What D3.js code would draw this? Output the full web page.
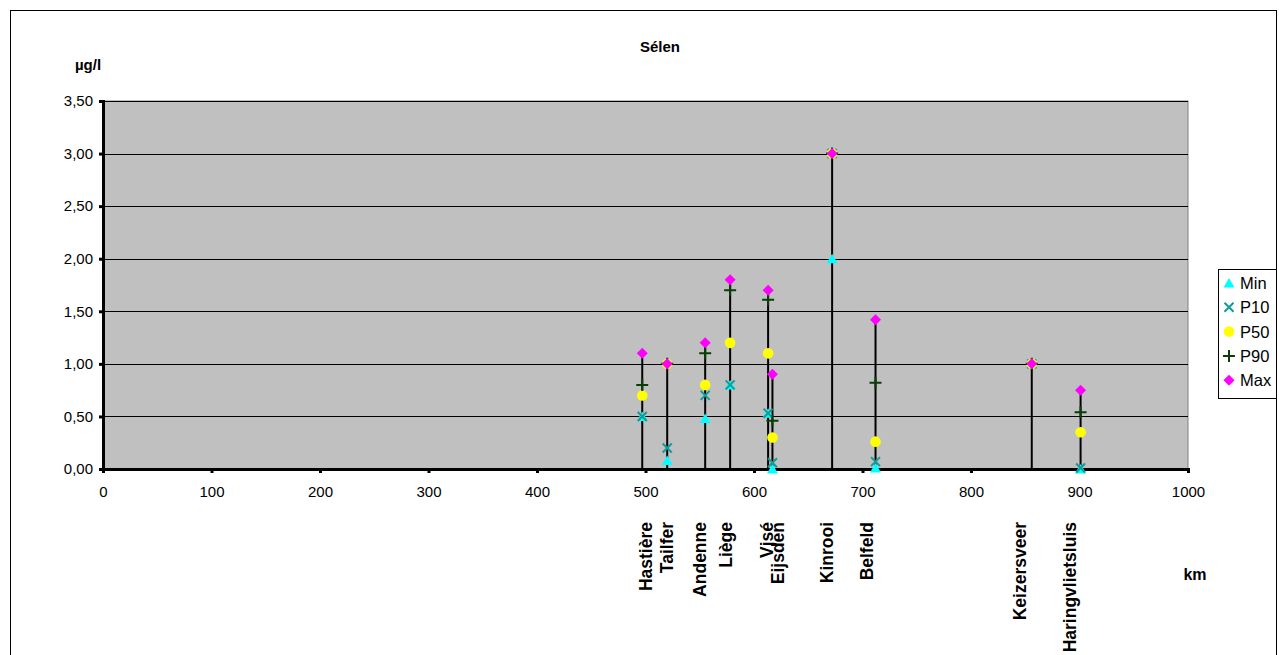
<!DOCTYPE html>
<html>
<head>
<meta charset="utf-8">
<script src="https://cdn.jsdelivr.net/npm/d3@7"></script>
<style>
  html, body { margin: 0; padding: 0; background: #fff; }
  svg { display: block; font-family: Arial, "Liberation Sans", sans-serif; }
</style>
</head>
<body>
<svg id="chart" width="1279" height="655"></svg>
<script>
// Selenium concentrations along the Meuse (µg/l) by river kilometre
const stations = ["Hastière", "Tailfer", "Andenne", "Liège", "Vjsé", "Eijsden", "Kinrooi", "Belfeld", "Keizersveer", "Haringvlietsluis"];
const km       = [497, 520, 555, 578, 613, 617, 672, 712, 856, 901];
// kilometre at which each station name is written under the axis
const labelKm  = [500, 520, 550, 574, 612, 622, 667, 704, 845, 891];
const minVals  = [0.50, 0.08, 0.48, 0.80, 0.53, 0.00, 2.00, 0.01, 1.00, 0.00];
const p10Vals  = [0.50, 0.20, 0.70, 0.80, 0.53, 0.06, 3.00, 0.07, 1.00, 0.01];
const p50Vals  = [0.70, 1.00, 0.80, 1.20, 1.10, 0.30, 3.00, 0.26, 1.00, 0.35];
const p90Vals  = [0.80, 1.00, 1.10, 1.70, 1.61, 0.46, 3.00, 0.82, 1.00, 0.54];
const maxVals  = [1.10, 1.00, 1.20, 1.80, 1.70, 0.90, 3.00, 1.42, 1.00, 0.75];

const xTicks = [0, 100, 200, 300, 400, 500, 600, 700, 800, 900, 1000];
const yTicks = [0, 0.5, 1, 1.5, 2, 2.5, 3, 3.5];
const seriesNames = ["Min", "P10", "P50", "P90", "Max"];

const svg = d3.select("#chart");
const plot = { left: 103, right: 1188, top: 101, bottom: 469 };

const x = d3.scaleLinear().domain([0, 1000]).range([plot.left, plot.right]);
const y = d3.scaleLinear().domain([0, 3.5]).range([plot.bottom, plot.top]);
const fmt = v => d3.format(".2f")(v).replace(".", ",");

// outer chart frame
svg.append("rect").attr("x", 10.5).attr("y", 10.5).attr("width", 1266).attr("height", 660)
  .attr("fill", "#fff").attr("stroke", "#000").attr("stroke-width", 1);

// plot background
svg.append("rect").attr("x", plot.left).attr("y", plot.top)
  .attr("width", plot.right - plot.left).attr("height", plot.bottom - plot.top)
  .attr("fill", "#c0c0c0").attr("stroke", "#808080").attr("stroke-width", 1);

// horizontal gridlines
svg.append("g").selectAll("line").data(yTicks.filter(d => d > 0)).join("line")
  .attr("x1", plot.left).attr("x2", plot.right)
  .attr("y1", d => Math.round(y(d)) + 0.5).attr("y2", d => Math.round(y(d)) + 0.5)
  .attr("stroke", "#000").attr("stroke-width", 1);

// y axis
const yAxis = svg.append("g").attr("transform", `translate(${plot.left},0)`)
  .call(d3.axisLeft(y).tickValues(yTicks).tickFormat(fmt).tickSize(4).tickPadding(6));
yAxis.select(".domain").attr("stroke-width", 3);
yAxis.selectAll(".tick line").attr("stroke-width", 3);
yAxis.selectAll("text").attr("font-size", 15).attr("fill", "#000");

// x axis
const xAxis = svg.append("g").attr("transform", `translate(0,${plot.bottom})`)
  .call(d3.axisBottom(x).tickValues(xTicks).tickFormat(d3.format("d")).tickSize(4).tickPadding(13));
xAxis.select(".domain").attr("stroke-width", 3);
xAxis.selectAll(".tick line").attr("stroke-width", 3);
xAxis.selectAll("text").attr("font-size", 15).attr("fill", "#000");

// stems from zero up to the maximum
const rows = stations.map((s, i) => ({ s, km: km[i], lk: labelKm[i], vals: [minVals[i], p10Vals[i], p50Vals[i], p90Vals[i], maxVals[i]] }));
svg.append("g").selectAll("line").data(rows).join("line")
  .attr("x1", d => x(d.km)).attr("x2", d => x(d.km))
  .attr("y1", y(0)).attr("y2", d => y(d.vals[4]))
  .attr("stroke", "#000").attr("stroke-width", 2);

// marker shapes per series
const markers = [
  { fill: "#00ffff", path: "M0,-5L5.5,4.5L-5.5,4.5Z" },
  { stroke: "#139a9a", cross: true },
  { fill: "#ffff00", circle: 5.3 },
  { stroke: "#0a3d0a", plus: true },
  { fill: "#ff00ff", path: "M0,-5.5L5.5,0L0,5.5L-5.5,0Z" }
];

function drawMarker(g, m, cx, cy) {
  if (m.path) {
    g.append("path").attr("d", m.path).attr("transform", `translate(${cx},${cy})`).attr("fill", m.fill);
  } else if (m.circle) {
    g.append("circle").attr("cx", cx).attr("cy", cy).attr("r", m.circle).attr("fill", m.fill);
  } else if (m.cross) {
    const r = 4.5;
    g.append("path").attr("d", `M${cx - r},${cy - r}L${cx + r},${cy + r}M${cx - r},${cy + r}L${cx + r},${cy - r}`)
      .attr("stroke", m.stroke).attr("stroke-width", 2).attr("fill", "none");
  } else if (m.plus) {
    const r = 6;
    g.append("path").attr("d", `M${cx - r},${cy}L${cx + r},${cy}M${cx},${cy - r}L${cx},${cy + r}`)
      .attr("stroke", m.stroke).attr("stroke-width", 2).attr("fill", "none");
  }
}

const markG = svg.append("g");
seriesNames.forEach((name, si) => {
  rows.forEach(r => drawMarker(markG, markers[si], x(r.km), y(r.vals[si])));
});

// station names under the axis
svg.append("g").selectAll("text").data(rows).join("text")
  .attr("transform", d => `translate(${x(d.lk) + 6},522) rotate(-90)`)
  .attr("text-anchor", "end")
  .attr("font-size", 17.5).attr("font-weight", "bold").attr("fill", "#000")
  .text(d => d.s);

// titles
svg.append("text").attr("x", 660).attr("y", 52).attr("text-anchor", "middle")
  .attr("font-size", 15).attr("font-weight", "bold").text("Sélen");
svg.append("text").attr("x", 88).attr("y", 70).attr("text-anchor", "middle")
  .attr("font-size", 15).attr("font-weight", "bold").text("µg/l");
svg.append("text").attr("x", 1195).attr("y", 580).attr("text-anchor", "middle")
  .attr("font-size", 16).attr("font-weight", "bold").text("km");

// legend
const lg = svg.append("g");
lg.append("rect").attr("x", 1218.5).attr("y", 269.5).attr("width", 58).attr("height", 129)
  .attr("fill", "#fff").attr("stroke", "#000");
seriesNames.forEach((name, i) => {
  const cy = 283 + i * 24.3;
  drawMarker(lg, markers[i], 1229, cy);
  lg.append("text").attr("x", 1240).attr("y", cy + 6).attr("font-size", 16.5).attr("fill", "#000").text(name);
});
</script>
</body>
</html>
